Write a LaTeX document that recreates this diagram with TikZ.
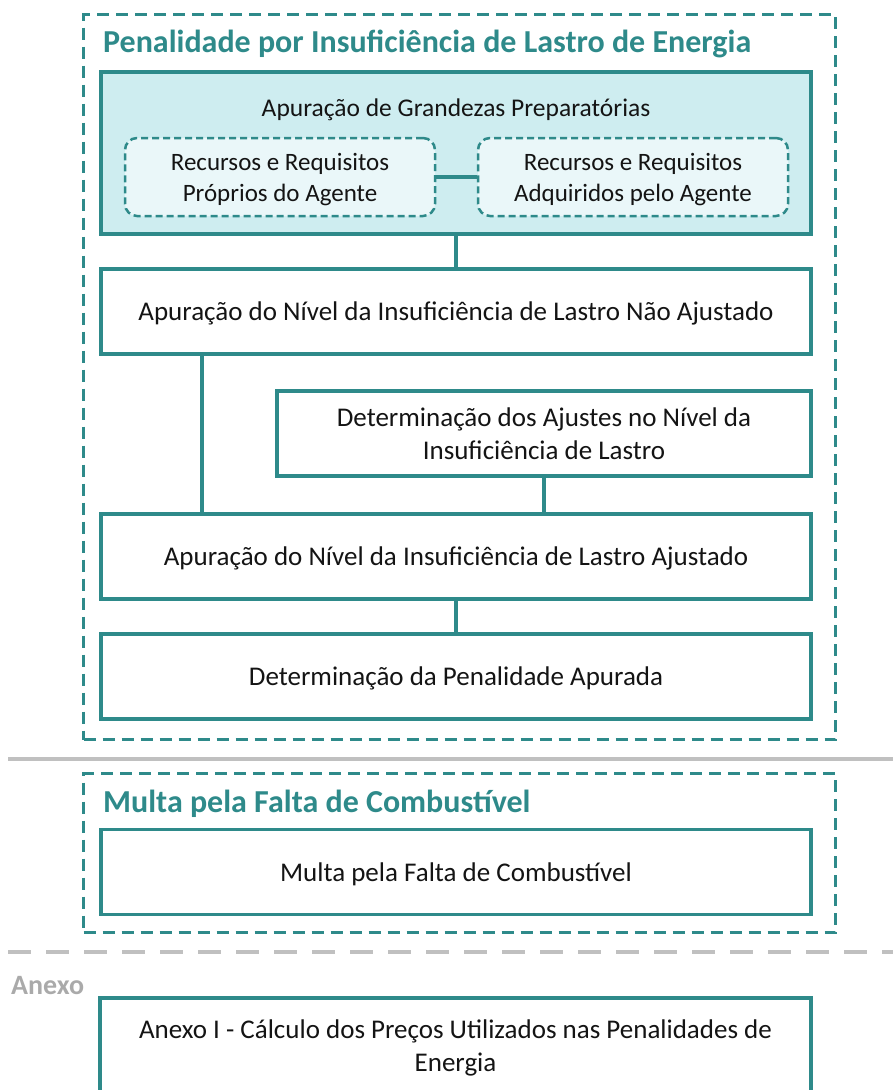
\documentclass[tikz,border=0pt]{standalone}
\usepackage{fontspec}
\setmainfont{Carlito}
\usetikzlibrary{positioning}
\definecolor{teal1}{RGB}{46,138,138}
\definecolor{fillA}{RGB}{206,237,240}
\definecolor{fillB}{RGB}{234,247,249}
\definecolor{grayl}{RGB}{192,192,192}
\definecolor{grayt}{RGB}{170,170,170}
\definecolor{txt}{RGB}{20,20,20}
\tikzset{
  stepbox/.style={draw=teal1, line width=3.5pt, fill=white, inner sep=0pt, align=center, text=txt, text depth=0pt, font=\fontsize{27}{33}\selectfont},
  subbox/.style={draw=teal1, line width=2.5pt, dash pattern=on 7pt off 4pt, rounded corners=12pt, fill=fillB, inner sep=0pt, align=center, text=txt, text depth=0pt, font=\fontsize{25}{31}\selectfont},
  group/.style={draw=teal1, line width=3pt, dash pattern=on 12pt off 7pt, inner sep=0pt},
  grouptitle/.style={anchor=west, text=teal1, font=\bfseries\fontsize{32}{36}\selectfont, inner sep=0pt},
  link/.style={draw=teal1, line width=3.5pt},
}
\begin{document}
\begin{tikzpicture}[x=1pt,y=-1pt]
\useasboundingbox (0,0) rectangle (893,1090);
% group 1
\node[group, minimum width=752pt, minimum height=725pt] (g1) at (459.5,377) {};
\node[grouptitle] (t1) at (103,44) {Penalidade por Insuficiência de Lastro de Energia};
\node[stepbox, fill=fillA, minimum width=710pt, minimum height=162pt] (A) at (456,153) {};
\node[text=txt, font=\fontsize{25.5}{30}\selectfont, inner sep=0pt, text depth=0pt] (At) at (456,108) {Apuração de Grandezas Preparatórias};
\node[subbox, minimum width=310pt, minimum height=78pt] (A1) at (280,177) {Recursos e Requisitos\\Próprios do Agente};
\node[subbox, minimum width=310pt, minimum height=78pt] (A2) at (633,177) {Recursos e Requisitos\\Adquiridos pelo Agente};
\node[stepbox, minimum width=710pt, minimum height=85pt] (B) at (456,311.5) {Apuração do Nível da Insuficiência de Lastro Não Ajustado};
\node[stepbox, minimum width=534pt, minimum height=85pt] (C) at (544,433.5) {Determinação dos Ajustes no Nível da\\Insuficiência de Lastro};
\node[stepbox, minimum width=710pt, minimum height=85pt] (D) at (456,556.5) {Apuração do Nível da Insuficiência de Lastro Ajustado};
\node[stepbox, minimum width=710pt, minimum height=85pt] (E) at (456,676.5) {Determinação da Penalidade Apurada};
\coordinate (xl) at (202,0);
\draw[link] (A1.east) -- (A2.west);
\draw[link] (A.south) -- (B.north);
\draw[link] (xl |- B.south) -- (xl |- D.north);
\draw[link] (C.south) -- (C.south |- D.north);
\draw[link] (D.south) -- (E.north);
% separator
\coordinate (s1a) at (8,759);
\coordinate (s1b) at (893,759);
\draw[grayl, line width=4.5pt] (s1a) -- (s1b);
% group 2
\node[group, minimum width=752pt, minimum height=159pt] (g2) at (459.5,853) {};
\node[grouptitle] (t2) at (103,804) {Multa pela Falta de Combustível};
\node[stepbox, minimum width=710pt, minimum height=85pt] (F) at (456,872) {Multa pela Falta de Combustível};
% separator 2
\coordinate (s2a) at (8,952);
\coordinate (s2b) at (893,952);
\draw[grayl, line width=4.5pt, dash pattern=on 23pt off 15pt] (s2a) -- (s2b);
\node[anchor=west, text=grayt, font=\bfseries\fontsize{28}{32}\selectfont, inner sep=0pt] (anx) at (11,986) {Anexo};
\node[stepbox, minimum width=711pt, minimum height=96pt] (G) at (455.5,1046) {Anexo I - Cálculo dos Preços Utilizados nas Penalidades de\\Energia};
\end{tikzpicture}
\end{document}
